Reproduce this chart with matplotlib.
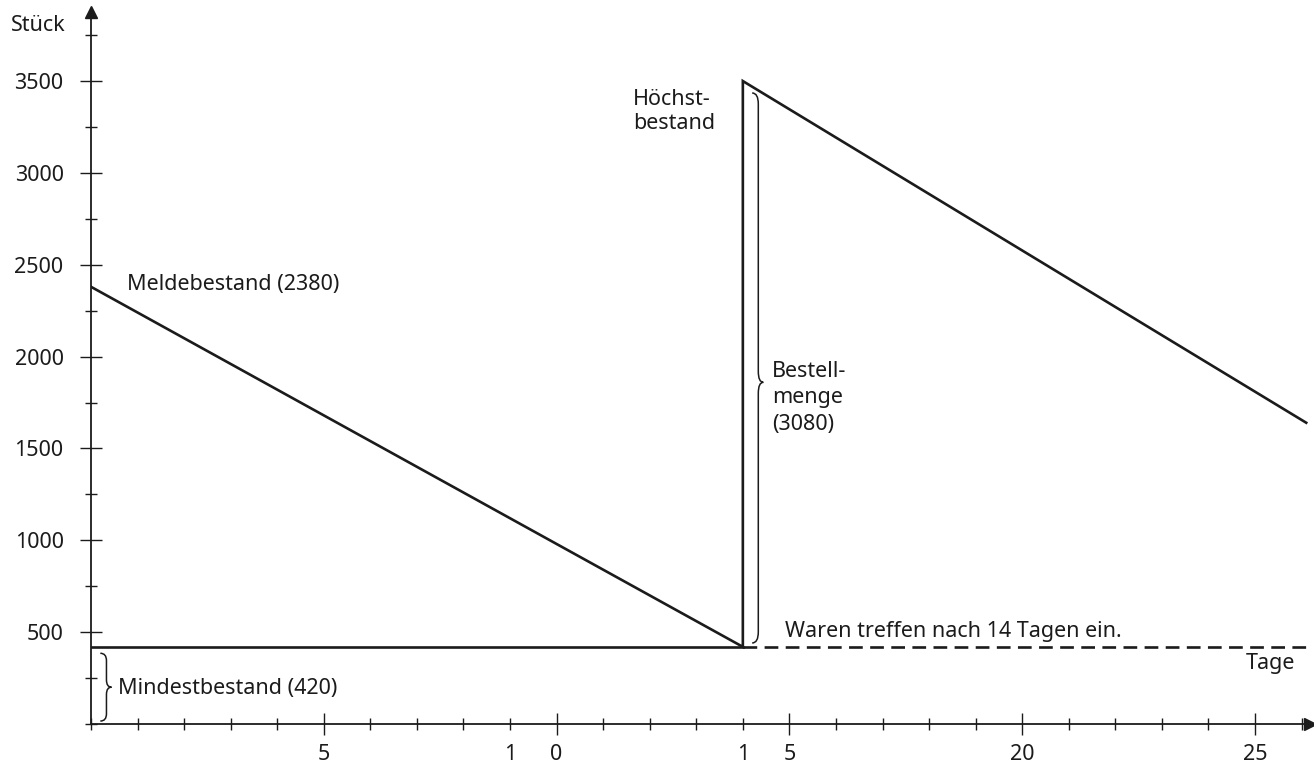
import matplotlib
matplotlib.use("Agg")
import matplotlib.pyplot as plt
from matplotlib.path import Path
from matplotlib.patches import PathPatch
from matplotlib.ticker import FixedLocator, FixedFormatter, MultipleLocator, FuncFormatter
import numpy as np

plt.rcParams['font.family'] = ['Noto Sans', 'DejaVu Sans']

# stock curve (days, pieces)
stock_days = [0, 14, 14, 26.1]
stock_values = [2380, 420, 3500, 1640]

# minimum stock line, solid until delivery, dashed afterwards
min_stock = 420
delivery_day = 14
end_day = 26.1

# axis ticks
y_major = [500, 1000, 1500, 2000, 2500, 3000, 3500]
x_major = [5, 10, 15, 20, 25]
x_major_labels = ["5", "0", "5", "20", "25"]
x_minor_labels = {9: "1", 14: "1"}

ink = "#1b1b1b"
W, H, DPI = 1314, 767, 100

fig = plt.figure(figsize=(W / DPI, H / DPI), dpi=DPI)
# axes placed in pixel terms: origin at (91, 724), arrow tips near (1310, 12)
x0, y0, x1, y1 = 91, 724, 1310, 12
ax = fig.add_axes([x0 / W, (H - y0) / H, (x1 - x0) / W, (y0 - y1) / H])
px_per_day = 46.56
px_per_unit = 0.1837
ax.set_xlim(0, (x1 - x0) / px_per_day)
ax.set_ylim(0, (y0 - y1) / px_per_unit)

for s in ["top", "right"]:
    ax.spines[s].set_visible(False)
for s in ["left", "bottom"]:
    ax.spines[s].set_linewidth(1.3)
    ax.spines[s].set_color(ink)
    ax.spines[s].set_zorder(1)

# arrow heads
ax.plot(1, 0, ">", color=ink, ms=9, transform=ax.transAxes, clip_on=False)
ax.plot(0, 1, "^", color=ink, ms=9, transform=ax.transAxes, clip_on=False)

fs = 15.5

# ticks
ax.yaxis.set_major_locator(FixedLocator(y_major))
ax.yaxis.set_minor_locator(MultipleLocator(250))
ax.xaxis.set_major_locator(FixedLocator(x_major))
ax.xaxis.set_major_formatter(FixedFormatter(x_major_labels))
ax.xaxis.set_minor_locator(MultipleLocator(1))
ax.xaxis.set_minor_formatter(FuncFormatter(lambda v, p: x_minor_labels.get(int(round(v)), "")))

ax.tick_params(axis="both", which="major", direction="inout", length=16.5, width=1.0,
               color=ink, labelsize=fs, labelcolor=ink)
ax.tick_params(axis="both", which="minor", direction="inout", length=9, width=1.0, color=ink)
ax.tick_params(axis="x", which="major", pad=6.5)
ax.tick_params(axis="x", which="minor", pad=6.5 + (16.5 - 9) / 2, labelsize=fs, labelcolor=ink)
ax.tick_params(axis="y", which="major", pad=11.5)

# curves
ax.plot(stock_days, stock_values, color=ink, lw=1.9, solid_joinstyle="miter", zorder=3)
ax.plot([0, delivery_day], [min_stock, min_stock], color=ink, lw=1.9, zorder=3)
ax.plot([delivery_day, end_day], [min_stock, min_stock], color=ink, lw=1.9,
        dashes=(5.2, 2.8), zorder=3)


def brace(ax, x, ytop, ybot, width, ymid=None, c=None):
    # right-pointing curly brace, drawn as bezier path in data coords
    if ymid is None:
        ymid = (ytop + ybot) / 2
    if c is None:
        c = (ytop - ybot) * 0.02
    xl, xm, xr = x, x + width * 0.55, x + width
    verts = [
        (xl, ytop), (xm, ytop), (xm, ytop - c),
        (xm, ymid + c), (xm, ymid), (xr, ymid),
        (xm, ymid), (xm, ymid - c),
        (xm, ybot + c), (xm, ybot), (xl, ybot),
    ]
    codes = [Path.MOVETO, Path.CURVE3, Path.CURVE3,
             Path.LINETO, Path.CURVE3, Path.CURVE3,
             Path.CURVE3, Path.CURVE3,
             Path.LINETO, Path.CURVE3, Path.CURVE3]
    ax.add_patch(PathPatch(Path(verts, codes), fill=False, lw=1.1, color=ink,
                           clip_on=False, zorder=2))


brace(ax, 0.2, 385, 16, 0.24, c=40)
brace(ax, 14.2, 3435, 441, 0.24, ymid=1860, c=60)

ax.text(-1.72, 3805, "Stück", fontsize=fs, color=ink, ha="left", va="center")
ax.text(25.86, 332, "Tage", fontsize=fs, color=ink, ha="right", va="center")
ax.text(0.78, 2390, "Meldebestand (2380)", fontsize=fs, color=ink, ha="left", va="center")
ax.text(11.64, 3335, "Höchst-\nbestand", fontsize=fs, color=ink, ha="left", va="center",
        linespacing=1.15)
ax.text(14.63, 1775, "Bestell-\nmenge\n(3080)", fontsize=fs, color=ink, ha="left",
        va="center", linespacing=1.35)
ax.text(14.9, 505, "Waren treffen nach 14 Tagen ein.", fontsize=fs, color=ink,
        ha="left", va="center")
ax.text(0.58, 195, "Mindestbestand (420)", fontsize=fs, color=ink, ha="left", va="center")

fig.savefig("out.png", dpi=DPI)
